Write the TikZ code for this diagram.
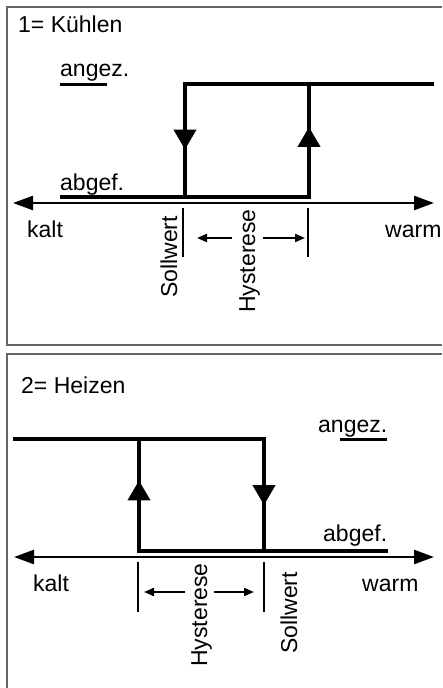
\documentclass[tikz,border=0pt]{standalone}
\usepackage{fontspec}
\setmainfont{Liberation Sans}
\usetikzlibrary{arrows.meta, decorations.markings}

\begin{document}
\begin{tikzpicture}[x=1pt,y=-1pt,font=\fontsize{23}{27}\selectfont,
                    >={Triangle[length=10pt,width=8pt]},
                    flow/.style={postaction={decorate,decoration={markings,
                      mark=at position #1 with {\arrow{Triangle[length=20pt,width=22pt]}}}}}]
   \tikzstyle{frame}=[draw=black!60,line width=2pt]
   \tikzstyle{signal}=[line width=4pt,line cap=rect]
   \tikzstyle{axis}=[line width=2.5pt,{Triangle[length=20pt,width=14pt]}-{Triangle[length=20pt,width=14pt]}]
   \tikzstyle{tick}=[line width=2pt]
   \tikzstyle{span}=[line width=2pt,->]
   \tikzstyle{lbl}=[inner sep=0pt,anchor=base west]
   \tikzstyle{vlbl}=[inner sep=0pt,anchor=base,rotate=90]

   \useasboundingbox (0,0) rectangle (442,688);

   % 1= Kuehlen
   \draw[frame] (442,7) -| (7,345) -- (442,345);
   \node[lbl]  (title1) at (18,32)   {1= Kühlen};
   \node[lbl]  (on1)    at (60,76)   {angez.};
   \node[lbl]  (off1)   at (60,190)  {abgef.};
   \node[lbl]  (cold1)  at (27,237)  {kalt};
   \node[lbl]  (warm1)  at (385,237) {warm};
   \node[vlbl] (set1)   at (177,257) {Sollwert};
   \node[vlbl] (hyst1)  at (255,261) {Hysterese};
   \draw[line width=3pt] (60,84) -- (107,84);

   \coordinate (ax1l) at (13,203);  \coordinate (ax1r) at (434,203);
   \coordinate (lo1)  at (62,197);  \coordinate (hi1)  at (432,84);
   \coordinate (ll1)  at (185,197); \coordinate (ul1)  at (185,84);
   \coordinate (lr1)  at (309,197); \coordinate (ur1)  at (309,84);
   \coordinate (tk1a) at (183,208); \coordinate (tk1b) at (183,257);
   \coordinate (tk1c) at (308,208); \coordinate (tk1d) at (308,257);

   \draw[axis] (ax1l) -- (ax1r);
   \draw[signal] (lo1) -- (lr1);
   \draw[signal] (ul1) -- (hi1);
   \draw[signal,flow=0.58] (ul1) -- (ll1);
   \draw[signal,flow=0.62] (lr1) -- (ur1);
   \draw[tick] (tk1a) -- (tk1b);
   \draw[tick] (tk1c) -- (tk1d);
   \draw[span] (232,238) -- (197,238);
   \draw[span] (263,238) -- (305,238);

   % 2= Heizen
   \draw[frame] (442,354) -| (7,688);
   \node[lbl]  (title2) at (21,393)  {2= Heizen};
   \node[lbl]  (on2)    at (318,432) {angez.};
   \node[lbl]  (off2)   at (323,541) {abgef.};
   \node[lbl]  (cold2)  at (33,591)  {kalt};
   \node[lbl]  (warm2)  at (362,591) {warm};
   \node[vlbl] (hyst2)  at (207,615) {Hysterese};
   \node[vlbl] (set2)   at (297,613) {Sollwert};
   \draw[line width=3pt] (340,439) -- (387,439);

   \coordinate (ax2l) at (14,557);  \coordinate (ax2r) at (434,557);
   \coordinate (hi2)  at (15,439);  \coordinate (lo2)  at (386,551);
   \coordinate (ll2)  at (139,551); \coordinate (ul2)  at (139,439);
   \coordinate (lr2)  at (264,551); \coordinate (ur2)  at (264,439);
   \coordinate (tk2a) at (138,562); \coordinate (tk2b) at (138,612);
   \coordinate (tk2c) at (264,562); \coordinate (tk2d) at (264,612);

   \draw[axis] (ax2l) -- (ax2r);
   \draw[signal] (hi2) -- (ur2);
   \draw[signal] (ll2) -- (lo2);
   \draw[signal,flow=0.63] (ll2) -- (ul2);
   \draw[signal,flow=0.59] (ur2) -- (lr2);
   \draw[tick] (tk2a) -- (tk2b);
   \draw[tick] (tk2c) -- (tk2d);
   \draw[span] (185,592) -- (144,592);
   \draw[span] (214,592) -- (254,592);
\end{tikzpicture}
\end{document}
